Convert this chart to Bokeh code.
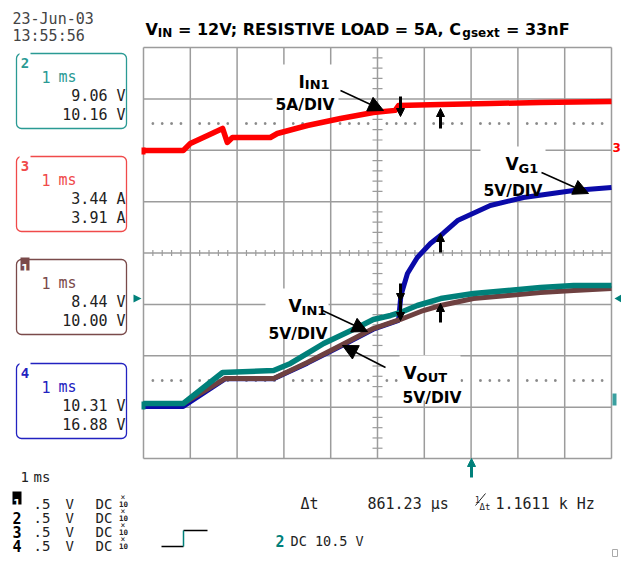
from bokeh.plotting import figure
from bokeh.models import Range1d, Arrow, NormalHead, Grid
from bokeh.core.properties import value
from bokeh.embed import file_html
from bokeh.resources import INLINE

# ---------------- data (time in ms, 1 ms/div) ----------------
# CH3  I_IN1  (A, 5 A/div)
t_iin = [0, 0.85, 1.0, 1.37, 1.69, 1.79, 1.9, 2.71, 2.86, 3.5, 4.21, 4.91, 5.38, 5.45, 6.35, 7.4, 8.48, 10.0]
i_in = [-0.62, -0.62, 0.05, 0.84, 1.52, 0.16, 0.64, 0.64, 1.03, 1.81, 2.49, 3.08, 3.28, 3.76, 3.86, 3.95, 4.05, 4.15]
# CH2  V_IN1  (V, 5 V/div)
t_vin = [0, 0.85, 1.69, 2.78, 3.14, 3.5, 3.85, 4.21, 4.57, 4.91, 5.28, 5.49, 5.85, 6.35, 7.05, 7.78, 8.48, 9.19, 10.0]
v_in = [0.35, 0.35, 3.37, 3.57, 4.25, 5.22, 6.19, 6.97, 7.75, 8.53, 8.92, 9.21, 9.89, 10.57, 11.06, 11.35, 11.64, 11.84, 11.84]
# CH1  V_OUT  (V, 5 V/div)
t_vout = [0, 0.85, 1.75, 2.78, 3.5, 4.21, 4.91, 5.49, 5.98, 6.35, 7.05, 7.78, 8.48, 9.19, 10.0]
v_out = [0.35, 0.35, 2.79, 2.79, 4.34, 6.0, 7.65, 8.53, 9.40, 9.89, 10.57, 10.86, 11.16, 11.35, 11.55]
# CH4  V_G1  (V, 5 V/div)
t_vg = [0, 0.85, 1.75, 2.78, 3.5, 4.21, 4.91, 5.45, 5.5, 5.64, 5.85, 6.13, 6.4, 6.71, 7.41, 8.12, 9.19, 10.0]
v_g = [0.06, 0.06, 2.76, 2.76, 4.28, 5.93, 7.58, 8.45, 10.86, 13.0, 14.56, 15.92, 16.90, 18.16, 19.62, 20.40, 21.08, 21.37]

CH3_GND_DIV = 6.12      # ground level of channel 3 (divisions from bottom)
CH124_GND_DIV = 1.0     # ground level of channels 1, 2, 4
SCALE = 5.0             # units per division
CURSOR_DOT_DIV = [6.52, 1.518]

# read-out texts
box_channels = ["2", "3", "1", "4"]
box_time = ["1 ms", "1 ms", "1 ms", "1 ms"]
box_val1 = ["9.06 V", "3.44 A", "8.44 V", "10.31 V"]
box_val2 = ["10.16 V", "3.91 A", "10.00 V", "16.88 V"]

# ---------------- layout (page pixels) ----------------
W, H = 621, 567
OX, OY = 0, 0
GL, GR, GT, GB = 143, 611, 47, 458
NX, NY = 10, 8
dx = (GR - GL) / NX
dy = (GB - GT) / NY
x0 = (OX - GL) / dx
x1 = NX + (OX + W - GR) / dx
y1 = NY + (GT - OY) / dy
y0 = -(OY + H - GB) / dy

RED = "#ff0000"
BLUE = "#0a0aa8"
TEAL = "#00807a"
BROWN = "#6e4040"
GRID_C = "#9c9c9c"
TXT = "#222222"
BOX_C = ["#2a9a94", "#f04a4a", "#7a4a4a", "#2222c0"]

p = figure(width=W, height=H, x_range=Range1d(x0, x1), y_range=Range1d(y0, y1),
           output_backend="svg", toolbar_location=None, x_axis_location=None,
           y_axis_location=None, min_border=0, title=None)
for g in p.select(type=Grid):
    g.visible = False
p.outline_line_color = None
p.background_fill_color = "white"
p.border_fill_color = "white"


def ch_range(g):
    return Range1d((y0 - g) * SCALE, (y1 - g) * SCALE)


p.extra_y_ranges = {"ch3": ch_range(CH3_GND_DIV), "ch124": ch_range(CH124_GND_DIV),
                    "px": Range1d(OY + H, OY)}
p.extra_x_ranges = {"px": Range1d(OX, OX + W)}
PX = dict(x_range_name="px", y_range_name="px")

# ---------------- graticule ----------------
vx = list(range(NX + 1))
p.segment(x0=vx, y0=[0] * len(vx), x1=vx, y1=[NY] * len(vx), line_color=GRID_C, line_width=1.5)
hy = list(range(NY + 1))
p.segment(x0=[0] * len(hy), y0=hy, x1=[NX] * len(hy), y1=hy, line_color=GRID_C, line_width=1.5)
tlx = 5 / dx
ys = [k * 0.2 for k in range(1, NY * 5) if k % 5]
p.segment(x0=[NX / 2 - tlx] * len(ys), y0=ys, x1=[NX / 2 + tlx] * len(ys), y1=ys,
          line_color=GRID_C, line_width=1.2)
tly = 3 / dy
xs = [k * 0.2 for k in range(1, NX * 5) if k % 5]
p.segment(x0=xs, y0=[NY / 2 - tly] * len(xs), x1=xs, y1=[NY / 2 + tly] * len(xs),
          line_color=GRID_C, line_width=1.2)
for cy in CURSOR_DOT_DIV:
    p.scatter(xs, [cy] * len(xs), marker="square", size=1.6, color="#8a8a8a")

# white backgrounds behind the annotation labels
p.quad(left=[272, 480, 265, 399], right=[338, 545, 328, 460], top=[64, 146, 288, 355],
       bottom=[109, 193, 337, 400], fill_color="white", line_color=None, **PX)

# ---------------- traces ----------------
p.line(t_vg, v_g, y_range_name="ch124", line_color=BLUE, line_width=5, line_join="round")
p.line(t_vout, v_out, y_range_name="ch124", line_color=BROWN, line_width=5, line_join="round")
p.line(t_vin, v_in, y_range_name="ch124", line_color=TEAL, line_width=5.5, line_join="round")
p.line(t_iin, i_in, y_range_name="ch3", line_color=RED, line_width=5.5, line_join="round")

# channel markers on the edges
p.quad(left=[141], right=[145], top=[147], bottom=[154], fill_color=RED, line_color=None, **PX)
p.quad(left=[141], right=[145], top=[401], bottom=[409], fill_color=TEAL, line_color=None, **PX)
p.patch([133, 133, 141], [294, 302, 298], fill_color=TEAL, line_color=None, **PX)
p.patch([621, 621, 614], [294, 302, 298], fill_color=TEAL, line_color=None, **PX)
p.quad(left=[612], right=[616], top=[393], bottom=[405], fill_color="#3aa0a0", line_color=None, **PX)
p.quad(left=[612], right=[617], top=[549], bottom=[556], fill_color=None, line_color="#aaaaaa", **PX)


# ---------------- cursor arrows ----------------
def cursor_arrow(x, tail, tip, color="black"):
    d = 1 if tip > tail else -1
    p.segment(x0=[x], y0=[tail], x1=[x], y1=[tip - d * 6], line_color=color, line_width=3, **PX)
    p.patch([x - 4, x + 4, x], [tip - d * 8, tip - d * 8, tip], fill_color=color,
            line_color=color, line_width=1, **PX)


for (ax, at, ap) in [(400, 96, 116), (440, 128, 108), (440, 252, 233), (400, 283, 301),
                     (400, 300, 320), (440, 322, 303)]:
    cursor_arrow(ax, at, ap)
cursor_arrow(471, 477, 458, TEAL)

# ---------------- annotation arrows ----------------
for (xs_, ys_, xe, ye) in [(340, 90, 383, 110), (541, 172, 588, 193),
                           (322, 310, 367, 331), (385, 367, 342, 345)]:
    p.add_layout(Arrow(end=NormalHead(size=15, fill_color="black", line_color="black", line_width=1),
                       x_start=xs_, y_start=ys_, x_end=xe, y_end=ye, line_width=1.5,
                       line_color="black", **PX))


# ---------------- texts ----------------
def txt(x, y, s, size, color=TXT, font="DejaVu Sans Mono", style="normal", align="left"):
    p.text(x=[x], y=[y], text=[s], text_font=value(font), text_font_size=f"{size}px",
           text_color=color, text_font_style=style, text_align=align,
           text_baseline="alphabetic", **PX)


SANS = "DejaVu Sans"
# title
txt(145, 28.5, "V", 16, "black", SANS, "bold")
txt(157.3, 32.5, "IN", 12, "black", SANS, "bold")
txt(177.4, 28.5, "= 12V; RESISTIVE LOAD = 5A, C", 16, "black", SANS, "bold")
txt(461.8, 32.5, "gsext", 12, "black", SANS, "bold")
txt(505.5, 28.5, "= 33nF", 16, "black", SANS, "bold")

# trace labels
txt(298, 81, "I", 17, "black", SANS, "bold")
txt(304.3, 84, "IN1", 13, "black", SANS, "bold")
txt(275, 104, "5A/DIV", 15.5, "black", SANS, "bold")
txt(505, 163, "V", 17, "black", SANS, "bold")
txt(518.1, 168, "G1", 13, "black", SANS, "bold")
txt(483, 190, "5V/DIV", 15.5, "black", SANS, "bold")
txt(288, 305, "V", 17, "black", SANS, "bold")
txt(301.1, 310, "IN1", 13, "black", SANS, "bold")
txt(268, 333, "5V/DIV", 15.5, "black", SANS, "bold")
txt(403, 372, "V", 17, "black", SANS, "bold")
txt(416.1, 377, "OUT", 13, "black", SANS, "bold")
txt(402, 397, "5V/DIV", 15.5, "black", SANS, "bold")

# channel 3 marker on the right edge
txt(612, 147, "3", 12, RED, SANS, "bold")

# date / time
txt(12, 18, "23-Jun-03", 15, "#444444")
txt(12, 35, "13:55:56", 15, "#444444")

# measurement boxes
tops = [53, 156, 259, 363]
p.quad(left=[16] * 4, right=[126] * 4, top=tops, bottom=[t + 75 for t in tops],
       fill_color=None, line_color=BOX_C, line_width=1.3, border_radius=5, **PX)
for i, t in enumerate(tops):
    c = BOX_C[i]
    if box_channels[i] == "1":
        p.quad(left=[20], right=[29], top=[t - 2], bottom=[t + 11], fill_color=c, line_color=None, **PX)
        txt(24.5, t + 9, box_channels[i], 13, "white", "DejaVu Sans Mono", "bold", "center")
    else:
        p.quad(left=[19], right=[30], top=[t - 3], bottom=[t + 3], fill_color="white", line_color=None, **PX)
        txt(24.5, t + 9, box_channels[i], 14, c, "DejaVu Sans Mono", "bold", "center")
    txt(41, t + 23, box_time[i].split()[0], 15, c)
    txt(58, t + 23, box_time[i].split()[1], 15, c)
    txt(125, t + 42, box_val1[i], 15, TXT, align="right")
    txt(125, t + 61, box_val2[i], 15, TXT, align="right")

# bottom channel settings
txt(20, 476, "1", 14)
txt(33, 476, "ms", 14)
rows = [503, 517, 531, 545]
for i, b in enumerate(rows):
    ch = str(i + 1)
    if ch == "1":
        p.quad(left=[12], right=[21], top=[b - 12], bottom=[b + 1], fill_color="black", line_color=None, **PX)
        txt(16.5, b, ch, 13, "white", "DejaVu Sans Mono", "bold", "center")
    else:
        txt(16.5, b, ch, 15, "black", "DejaVu Sans Mono", "bold", "center")
    txt(33, b, ".5", 14)
    txt(65, b, "V", 14)
    txt(95, b, "DC", 14)
    txt(120, b - 6, "\u00d7", 8)
    txt(118.5, b, "10", 7.5, TXT, "DejaVu Sans Mono", "bold")

# trigger icon and setting
p.segment(x0=[161, 183], y0=[546, 530], x1=[183, 207], y1=[546, 530], line_color="black", line_width=1.3, **PX)
p.segment(x0=[183], y0=[546], x1=[183], y1=[530], line_color=TEAL, line_width=1.5, **PX)
txt(275, 540, "2", 15, TEAL, "DejaVu Sans Mono", "bold")
txt(290, 540, "DC 10.5 V", 13.5)

# delta-t readout
txt(300, 503, "\u0394t", 15)
txt(367, 503, "861.23 \u00b5s", 15)
txt(474.5, 499, "1", 8)
p.segment(x0=[475], y0=[505], x1=[485], y1=[493], line_color=TXT, line_width=1, **PX)
txt(479, 506, "\u0394t", 9)
txt(495, 503, "1.1611 k Hz", 15)

open("out.html", "w").write(file_html(p, INLINE))
